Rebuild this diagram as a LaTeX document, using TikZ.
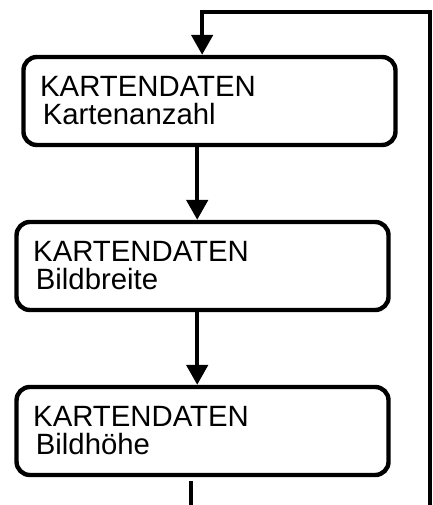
\documentclass[tikz,border=0pt]{standalone}
\usepackage{fontspec}
\setmainfont{Liberation Sans}
\usetikzlibrary{arrows.meta}

\tikzset{
  kbox/.style={draw=black, line width=3.3pt, rounded corners=10pt,
    minimum width=279pt, minimum height=66pt, text width=254pt,
    inner xsep=12pt, align=left, font=\fontsize{22}{21}\selectfont},
  flow/.style={line width=3pt, -{Triangle[length=15pt,width=16pt]}},
  plain/.style={line width=3pt}
}

\begin{document}
\begin{tikzpicture}
    \useasboundingbox (0pt,0pt) rectangle (324pt,378.75pt);
    % boxes
    \node[kbox] (anzahl) at (157.1pt,303pt) {KARTENDATEN\\\hspace*{2pt}Kartenanzahl};
    \node[kbox] (breite) at (151.9pt,179.25pt) {KARTENDATEN\\\hspace*{2pt}Bildbreite};
    \node[kbox] (hoehe)  at (151.9pt,55.5pt) {KARTENDATEN\\\hspace*{2pt}Bildh\"ohe};
    % loop back
    \coordinate (loopin) at (322.5pt,0pt);
    \coordinate (looptop) at (322.5pt,369.75pt);
    \coordinate (hoeheout) at ([xshift=-8.6pt]hoehe.south |- 0,0);
    \draw[flow] (loopin) -- (looptop) -| ([xshift=-5.5pt]anzahl.north);
    \draw[flow] ([xshift=-4pt]breite.north |- anzahl.south) -- ([xshift=-4pt]breite.north);
    \draw[flow] ([xshift=-4pt]hoehe.north |- breite.south) -- ([xshift=-4pt]hoehe.north);
    \draw[plain] ([xshift=-8.6pt,yshift=-3pt]hoehe.south) -- (hoeheout);
\end{tikzpicture}
\end{document}
